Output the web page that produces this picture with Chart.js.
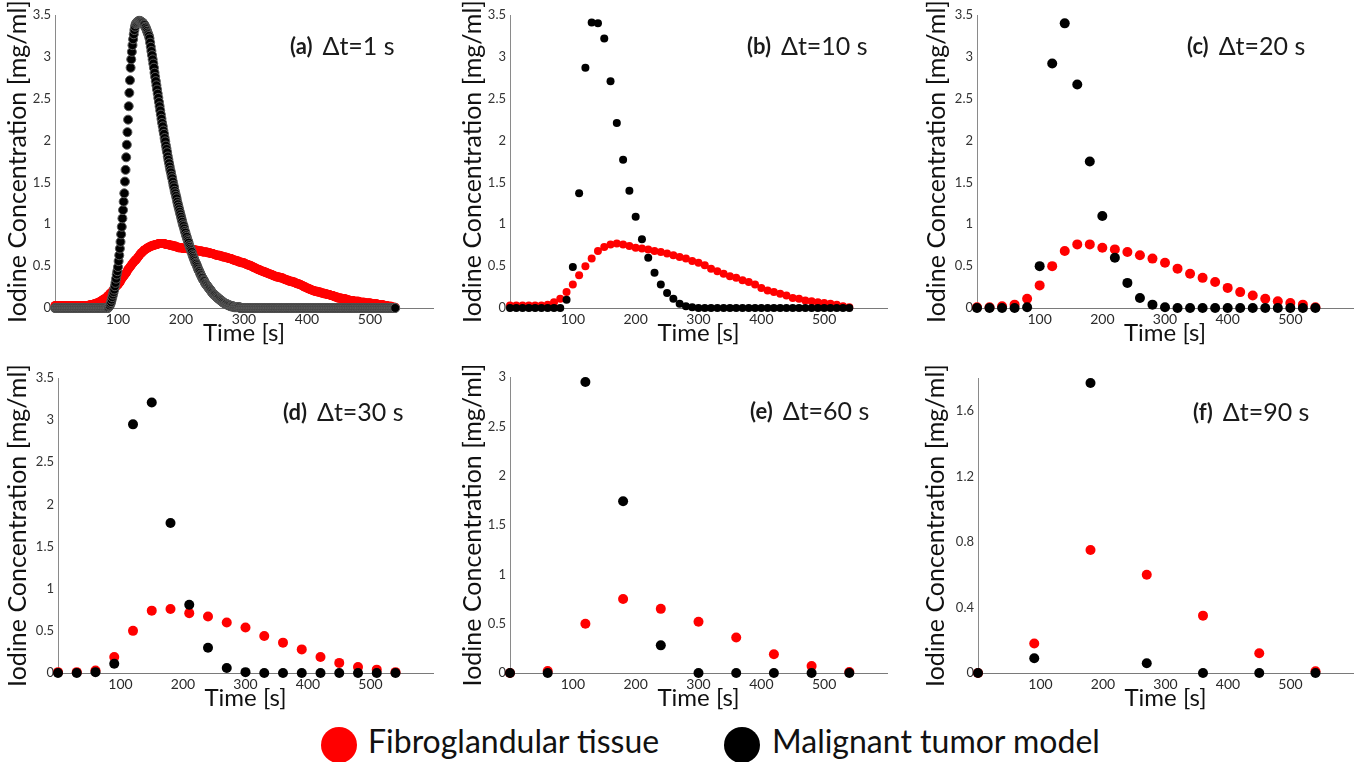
<!DOCTYPE html>
<html>
<head>
<meta charset="utf-8">
<title>Iodine concentration curves</title>
<script src="https://cdn.jsdelivr.net/npm/chart.js@4.4.1/dist/chart.umd.min.js"></script>
<style>
  html, body { margin: 0; padding: 0; background: #fff; }
  body { position: relative; width: 1364px; height: 762px; overflow: hidden; font-family: Lato, sans-serif; }
  canvas { position: absolute; }
  .key-dot { position: absolute; width: 36px; height: 36px; border-radius: 50%; }
  .key-text { position: absolute; font-size: 32px; line-height: 32px; color: #111; white-space: nowrap; }
</style>
</head>
<body>
<script>
// sampling interval of each panel, seconds
var DT = [1, 10, 20, 30, 60, 90];
var PANEL_TAGS = ['(a)', '(b)', '(c)', '(d)', '(e)', '(f)'];
var SERIES_NAMES = ['Fibroglandular tissue', 'Malignant tumor model'];
var X_TICKS = [100, 200, 300, 400, 500];
var Y_TICKS_35 = [0, 0.5, 1, 1.5, 2, 2.5, 3, 3.5];
var Y_TICKS_30 = [0, 0.5, 1, 1.5, 2, 2.5, 3];
var Y_TICKS_18 = [0, 0.4, 0.8, 1.2, 1.6];
var Y_MAX = [3.5, 3.5, 3.5, 3.5, 3, 1.8];

// dt = 1 s, t = 0..540
var fibro1 = [
  0.03,0.03,0.03,0.03,0.03,0.03,0.03,0.03,0.03,0.03,
  0.03,0.03,0.03,0.03,0.03,0.03,0.03,0.03,0.03,0.03,
  0.03,0.03,0.03,0.03,0.03,0.03,0.03,0.03,0.03,0.03,
  0.03,0.03,0.03,0.03,0.03,0.03,0.03,0.03,0.03,0.03,
  0.03,0.03,0.03,0.03,0.03,0.03,0.03,0.03,0.03,0.03,
  0.03,0.03,0.03,0.03,0.03,0.04,0.04,0.04,0.04,0.04,
  0.04,0.04,0.05,0.05,0.05,0.05,0.06,0.06,0.06,0.07,
  0.07,0.07,0.08,0.08,0.09,0.09,0.10,0.10,0.11,0.11,
  0.11,0.12,0.13,0.14,0.14,0.15,0.16,0.17,0.18,0.18,
  0.19,0.20,0.21,0.22,0.23,0.24,0.25,0.26,0.27,0.27,
  0.28,0.29,0.30,0.31,0.32,0.34,0.35,0.36,0.37,0.38,
  0.39,0.40,0.41,0.42,0.43,0.45,0.46,0.47,0.48,0.49,
  0.50,0.51,0.52,0.53,0.54,0.55,0.56,0.57,0.57,0.58,
  0.59,0.60,0.61,0.62,0.63,0.64,0.65,0.66,0.66,0.67,
  0.68,0.69,0.69,0.70,0.70,0.71,0.71,0.72,0.72,0.73,
  0.73,0.73,0.74,0.74,0.74,0.75,0.75,0.75,0.75,0.76,
  0.76,0.76,0.76,0.76,0.77,0.77,0.77,0.77,0.77,0.77,
  0.77,0.77,0.77,0.77,0.77,0.76,0.76,0.76,0.76,0.76,
  0.76,0.76,0.75,0.75,0.75,0.75,0.75,0.74,0.74,0.74,
  0.74,0.74,0.73,0.73,0.73,0.73,0.72,0.72,0.72,0.72,
  0.72,0.72,0.72,0.71,0.71,0.71,0.71,0.71,0.71,0.71,
  0.71,0.71,0.70,0.70,0.70,0.70,0.70,0.70,0.70,0.70,
  0.70,0.70,0.69,0.69,0.69,0.69,0.69,0.68,0.68,0.68,
  0.68,0.68,0.68,0.68,0.67,0.67,0.67,0.67,0.67,0.67,
  0.67,0.67,0.66,0.66,0.66,0.66,0.66,0.65,0.65,0.65,
  0.65,0.65,0.64,0.64,0.64,0.64,0.63,0.63,0.63,0.63,
  0.63,0.63,0.62,0.62,0.62,0.62,0.61,0.61,0.61,0.61,
  0.61,0.61,0.60,0.60,0.60,0.60,0.59,0.59,0.59,0.59,
  0.59,0.58,0.58,0.58,0.57,0.57,0.57,0.57,0.56,0.56,
  0.56,0.56,0.55,0.55,0.55,0.55,0.54,0.54,0.54,0.54,
  0.54,0.53,0.53,0.53,0.52,0.52,0.52,0.51,0.51,0.51,
  0.51,0.50,0.50,0.50,0.49,0.49,0.48,0.48,0.48,0.47,
  0.47,0.47,0.46,0.46,0.46,0.45,0.45,0.45,0.44,0.44,
  0.44,0.44,0.43,0.43,0.43,0.42,0.42,0.42,0.41,0.41,
  0.41,0.41,0.40,0.40,0.40,0.39,0.39,0.39,0.38,0.38,
  0.38,0.38,0.37,0.37,0.37,0.37,0.37,0.36,0.36,0.36,
  0.36,0.36,0.35,0.35,0.35,0.34,0.34,0.34,0.33,0.33,
  0.33,0.33,0.32,0.32,0.32,0.32,0.32,0.31,0.31,0.31,
  0.31,0.30,0.30,0.30,0.29,0.29,0.29,0.29,0.28,0.28,
  0.28,0.27,0.27,0.27,0.26,0.26,0.25,0.25,0.25,0.24,
  0.24,0.24,0.23,0.23,0.23,0.22,0.22,0.22,0.21,0.21,
  0.21,0.21,0.20,0.20,0.20,0.20,0.20,0.19,0.19,0.19,
  0.19,0.19,0.18,0.18,0.18,0.18,0.18,0.17,0.17,0.17,
  0.17,0.17,0.16,0.16,0.16,0.16,0.16,0.15,0.15,0.15,
  0.15,0.15,0.14,0.14,0.14,0.13,0.13,0.13,0.13,0.12,
  0.12,0.12,0.12,0.12,0.12,0.11,0.11,0.11,0.11,0.11,
  0.11,0.11,0.10,0.10,0.10,0.10,0.10,0.09,0.09,0.09,
  0.09,0.09,0.09,0.09,0.08,0.08,0.08,0.08,0.08,0.08,
  0.08,0.08,0.08,0.07,0.07,0.07,0.07,0.07,0.07,0.07,
  0.07,0.07,0.06,0.06,0.06,0.06,0.06,0.06,0.06,0.06,
  0.06,0.06,0.05,0.05,0.05,0.05,0.05,0.05,0.05,0.05,
  0.05,0.05,0.04,0.04,0.04,0.04,0.04,0.04,0.04,0.04,
  0.04,0.04,0.03,0.03,0.03,0.03,0.03,0.03,0.02,0.02,
  0.02,0.02,0.02,0.02,0.02,0.01,0.01,0.01,0.01,0.01,
  0.01
];
var tumor1 = [
  0,0,0,0,0,0,0,0,0,0,0,0,0,0,0,0,0,0,0,0,
  0,0,0,0,0,0,0,0,0,0,0,0,0,0,0,0,0,0,0,0,
  0,0,0,0,0,0,0,0,0,0,0,0,0,0,0,0,0,0,0,0,
  0,0,0,0,0,0,0,0,0,0,0,0,0,0,0,0,0,0,0,0,
  0,0,0,0,0,0.01,0.02,0.03,0.05,0.07,
  0.10,0.13,0.16,0.19,0.22,0.26,0.30,0.35,0.40,0.44,
  0.49,0.56,0.63,0.71,0.79,0.88,0.97,1.07,1.17,1.27,
  1.37,1.51,1.65,1.80,1.95,2.10,2.25,2.41,2.57,2.72,
  2.87,2.97,3.06,3.14,3.21,3.27,3.32,3.36,3.39,3.40,
  3.41,3.42,3.42,3.43,3.43,3.43,3.42,3.42,3.41,3.41,
  3.40,3.39,3.38,3.36,3.35,3.33,3.31,3.29,3.27,3.25,
  3.22,3.17,3.12,3.07,3.02,2.97,2.92,2.87,2.81,2.76,
  2.71,2.66,2.61,2.56,2.51,2.46,2.41,2.36,2.31,2.26,
  2.21,2.17,2.12,2.08,2.03,1.99,1.94,1.90,1.86,1.81,
  1.77,1.73,1.69,1.65,1.62,1.58,1.55,1.51,1.47,1.44,
  1.40,1.37,1.34,1.31,1.27,1.24,1.21,1.18,1.15,1.12,
  1.09,1.06,1.03,1.00,0.98,0.95,0.92,0.90,0.87,0.85,
  0.82,0.80,0.78,0.75,0.73,0.71,0.69,0.67,0.64,0.62,
  0.60,0.58,0.56,0.54,0.53,0.51,0.49,0.47,0.45,0.44,
  0.42,0.40,0.39,0.37,0.36,0.34,0.33,0.32,0.30,0.29,
  0.28,0.27,0.26,0.25,0.24,0.23,0.22,0.21,0.20,0.19,
  0.18,0.17,0.16,0.16,0.15,0.14,0.14,0.13,0.12,0.12,
  0.11,0.10,0.10,0.09,0.09,0.08,0.07,0.07,0.06,0.06,
  0.05,0.05,0.05,0.04,0.04,0.04,0.03,0.03,0.03,0.02,
  0.02,0.02,0.02,0.02,0.01,0.01,0.01,0.01,0.01,0.01,
  0.01,0.01,0.01,0.01,0,0,0,0,0,0,
  0,0,0,0,0,0,0,0,0,0,0,0,0,0,0,0,0,0,0,0,
  0,0,0,0,0,0,0,0,0,0,0,0,0,0,0,0,0,0,0,0,
  0,0,0,0,0,0,0,0,0,0,0,0,0,0,0,0,0,0,0,0,
  0,0,0,0,0,0,0,0,0,0,0,0,0,0,0,0,0,0,0,0,
  0,0,0,0,0,0,0,0,0,0,0,0,0,0,0,0,0,0,0,0,
  0,0,0,0,0,0,0,0,0,0,0,0,0,0,0,0,0,0,0,0,
  0,0,0,0,0,0,0,0,0,0,0,0,0,0,0,0,0,0,0,0,
  0,0,0,0,0,0,0,0,0,0,0,0,0,0,0,0,0,0,0,0,
  0,0,0,0,0,0,0,0,0,0,0,0,0,0,0,0,0,0,0,0,
  0,0,0,0,0,0,0,0,0,0,0,0,0,0,0,0,0,0,0,0,
  0,0,0,0,0,0,0,0,0,0,0,0,0,0,0,0,0,0,0,0,
  0,0,0,0,0,0,0,0,0,0,0,0,0,0,0,0,0,0,0,0,
  0
];

// dt = 10 s
var fibro10 = [
  0.03,0.03,0.03,0.03,0.03,0.03,0.04,0.07,0.11,0.19,
  0.28,0.39,0.50,0.59,0.68,0.73,0.76,0.77,0.76,0.74,
  0.72,0.71,0.70,0.68,0.67,0.65,0.63,0.61,0.59,0.56,
  0.54,0.51,0.47,0.44,0.41,0.38,0.36,0.33,0.31,0.28,
  0.24,0.21,0.19,0.17,0.15,0.12,0.11,0.09,0.08,0.07,
  0.06,0.05,0.04,0.02,0.01
];
var tumor10 = [
  0,0,0,0,0,0,0,0,0,0.10,
  0.49,1.37,2.87,3.41,3.40,3.22,2.71,2.21,1.77,1.40,
  1.09,0.82,0.60,0.42,0.28,0.18,0.11,0.05,0.02,0.01,
  0,0,0,0,0,0,0,0,0,0,
  0,0,0,0,0,0,0,0,0,0,
  0,0,0,0,0
];

// dt = 20 s
var fibro20 = [0.01,0.01,0.02,0.04,0.11,0.27,0.50,0.68,0.76,0.76,
  0.72,0.70,0.67,0.63,0.59,0.54,0.47,0.41,0.36,0.31,
  0.24,0.19,0.15,0.11,0.08,0.06,0.04,0.01];
var tumor20 = [0,0,0,0,0.01,0.50,2.92,3.40,2.67,1.75,
  1.10,0.60,0.30,0.12,0.04,0.01,0,0,0,0,
  0,0,0,0,0,0,0,0];

// dt = 30 s
var fibro30 = [0.01,0.01,0.03,0.19,0.50,0.74,0.76,0.71,0.67,0.60,
  0.54,0.44,0.36,0.28,0.19,0.12,0.07,0.04,0.01];
var tumor30 = [0,0,0.01,0.11,2.95,3.21,1.78,0.81,0.30,0.06,
  0.01,0,0,0,0,0,0,0,0];

// dt = 60 s
var fibro60 = [0,0.02,0.50,0.75,0.65,0.52,0.36,0.19,0.07,0.01];
var tumor60 = [0,0,2.95,1.74,0.28,0,0,0,0,0];

// dt = 90 s
var fibro90 = [0,0.18,0.75,0.60,0.35,0.12,0.01];
var tumor90 = [0,0.09,1.77,0.06,0,0,0];

var FIBRO = [fibro1, fibro10, fibro20, fibro30, fibro60, fibro90];
var TUMOR = [tumor1, tumor10, tumor20, tumor30, tumor60, tumor90];
var Y_TICKS = [Y_TICKS_35, Y_TICKS_35, Y_TICKS_35, Y_TICKS_35, Y_TICKS_30, Y_TICKS_18];

var RED = '#ff0000';
var BLACK = '#000000';

// canvas placement and plot-area margins for the 2 x 3 grid
var layout = [
  { left: 0,   top: 0,   w: 455, h: 350, axisW: 55, padR: 22, padT: 15, yTitlePad: 5,  tx: 235, ty: 32, r: 4.5 },
  { left: 455, top: 0,   w: 455, h: 350, axisW: 55, padR: 23, padT: 15, yTitlePad: 5,  tx: 237, ty: 32, r: 4 },
  { left: 910, top: 0,   w: 454, h: 350, axisW: 67, padR: 11, padT: 15, yTitlePad: 14, tx: 210, ty: 32, r: 5 },
  { left: 0,   top: 350, w: 455, h: 365, axisW: 58, padR: 22, padT: 28, yTitlePad: 5,  tx: 225, ty: 35, r: 5 },
  { left: 455, top: 350, w: 455, h: 365, axisW: 55, padR: 23, padT: 27, yTitlePad: 5,  tx: 240, ty: 35, r: 5 },
  { left: 910, top: 350, w: 454, h: 365, axisW: 68, padR: 11, padT: 28, yTitlePad: 13, tx: 215, ty: 35, r: 5 }
];

function toPoints(dt, values) {
  var pts = [];
  for (var i = 0; i < values.length; i++) {
    pts.push({ x: i * dt, y: values[i] });
  }
  return pts;
}

function fixedTicks(list) {
  return function(scale) {
    scale.ticks = list.map(function(v) { return { value: v }; });
  };
}

// "(a)  Δt=1 s" label inside the plot area
var panelTitle = {
  id: 'panelTitle',
  afterDraw: function(chart, args, opts) {
    var ctx = chart.ctx;
    var area = chart.chartArea;
    var x = area.left + opts.dx;
    var y = area.top + opts.dy;
    ctx.save();
    ctx.textBaseline = 'middle';
    ctx.fillStyle = '#1a1a1a';
    ctx.font = 'bold 22px Lato';
    ctx.fillText(opts.tag, x, y);
    x += ctx.measureText(opts.tag).width + 10;
    ctx.font = '25px Lato';
    ctx.fillText(opts.text, x, y);
    ctx.restore();
  }
};

function makePanel(i) {
  var L = layout[i];
  var canvas = document.createElement('canvas');
  canvas.width = L.w;
  canvas.height = L.h;
  canvas.style.left = L.left + 'px';
  canvas.style.top = L.top + 'px';
  document.body.appendChild(canvas);

  return new Chart(canvas, {
    type: 'scatter',
    data: {
      datasets: [{
        label: SERIES_NAMES[0],
        data: toPoints(DT[i], FIBRO[i]),
        pointRadius: L.r,
        pointBackgroundColor: RED,
        pointBorderWidth: 0,
        order: 1,
        clip: false
      }, {
        label: SERIES_NAMES[1],
        data: toPoints(DT[i], TUMOR[i]),
        pointRadius: L.r,
        pointBackgroundColor: BLACK,
        pointBorderColor: i === 0 ? '#5a5a5a' : BLACK,
        pointBorderWidth: i === 0 ? 1 : 0,
        order: 0,
        clip: false
      }]
    },
    options: {
      responsive: false,
      animation: false,
      events: [],
      layout: { padding: { top: L.padT, right: L.padR, left: 0, bottom: 0 } },
      plugins: {
        legend: { display: false },
        tooltip: { enabled: false },
        panelTitle: { tag: PANEL_TAGS[i], text: '\u0394t=' + DT[i] + ' s', dx: L.tx, dy: L.ty }
      },
      scales: {
        x: {
          type: 'linear',
          min: 0,
          max: 600,
          grid: { display: false, drawTicks: false },
          border: { display: true, color: '#7a7a7a', width: 1 },
          afterBuildTicks: fixedTicks(X_TICKS),
          afterFit: function(scale) { scale.height = 42; },
          ticks: {
            autoSkip: false,
            maxRotation: 0,
            padding: 3,
            color: '#2a2a2a',
            font: { family: 'Lato', size: 14 },
            callback: function(v) { return String(v); }
          },
          title: {
            display: true,
            text: 'Time [s]',
            color: '#111',
            font: { family: 'Lato', size: 24, lineHeight: 1 },
            padding: { top: 0, bottom: 5 }
          }
        },
        y: {
          min: 0,
          max: Y_MAX[i],
          grid: { display: false, drawTicks: false },
          border: { display: true, color: '#8a8a8a', width: 1 },
          afterBuildTicks: fixedTicks(Y_TICKS[i]),
          afterFit: function(scale) { scale.width = L.axisW; },
          ticks: {
            padding: 4,
            color: '#333',
            font: { family: 'Lato', size: 13 },
            callback: function(v) { return String(v); }
          },
          title: {
            display: true,
            text: 'Iodine Concentration [mg/ml]',
            color: '#111',
            font: { family: 'Lato', size: 25, lineHeight: 1 },
            padding: { top: L.yTitlePad, bottom: 0 }
          }
        }
      }
    },
    plugins: [panelTitle]
  });
}

for (var p = 0; p < 6; p++) {
  makePanel(p);
}

// shared key under the grid
var keyItems = [
  { color: RED, dotX: 321, textX: 368 },
  { color: BLACK, dotX: 724, textX: 772 }
];
keyItems.forEach(function(item, k) {
  var dot = document.createElement('div');
  dot.className = 'key-dot';
  dot.style.left = item.dotX + 'px';
  dot.style.top = '727px';
  dot.style.background = item.color;
  document.body.appendChild(dot);

  var label = document.createElement('div');
  label.className = 'key-text';
  label.style.left = item.textX + 'px';
  label.style.top = '725px';
  label.textContent = SERIES_NAMES[k];
  document.body.appendChild(label);
});
</script>
</body>
</html>
